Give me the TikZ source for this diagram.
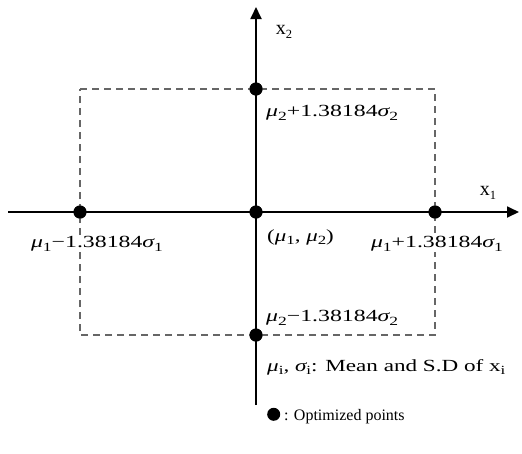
\documentclass[tikz,border=0pt]{standalone}
\usepackage{fontspec}
\setmainfont{Liberation Serif}
\usetikzlibrary{arrows.meta}
\newcommand\lowi[1]{\raisebox{-0.45ex}{\fontsize{12.5}{13}\selectfont #1}}
\newcommand\mymu{{\itshape μ}}
\newcommand\mysig{{\itshape σ}}
\newcommand\wide[2]{\scalebox{#1}[1]{#2}}
\begin{document}
\begin{tikzpicture}[x=1pt,y=-1pt,
  axis/.style={line width=1.8pt,-{Triangle[length=12pt,width=11pt]}},
  dot/.style={circle,fill=black,inner sep=0pt,minimum size=13pt},
  box/.style={draw=black!60,line width=1.4pt,dash pattern=on 7pt off 5pt},
  lbl/.style={font=\fontsize{17}{18}\selectfont,inner sep=1pt}]
\useasboundingbox (0,0) rectangle (522,453);
\coordinate (xs) at (8,212);
\coordinate (xe) at (519,212);
\coordinate (ys) at (256,405);
\coordinate (ye) at (256,7);
\node[dot] (L) at (80,212) {};
\node[dot] (R) at (435,212) {};
\node[dot] (C) at (256,212) {};
\node[dot] (T) at (256,89) {};
\node[dot] (B) at (256,335) {};
\draw[box] (L |- T) -- (R |- T) -- (R |- B) -- (L |- B) -- cycle;
\draw[axis] (xs) -- (xe);
\draw[axis] (ys) -- (ye);
\node[dot] at (L) {};
\node[dot] at (R) {};
\node[dot] at (C) {};
\node[dot] at (T) {};
\node[dot] at (B) {};
\node[lbl,font=\fontsize{20}{21}\selectfont] (x2) at (284,32) {x\lowi{2}};
\node[lbl,font=\fontsize{20}{21}\selectfont] (x1) at (488,193) {x\lowi{1}};
\node[lbl,fill=white,anchor=west] (tl) at (265,113) {\wide{1.4}{\mymu\lowi{2}+1.38184\mysig\lowi{2}}};
\node[lbl,fill=white,anchor=west] (cl) at (266,237) {\wide{1.35}{(\mymu\lowi{1}, \mymu\lowi{2})}};
\node[lbl,fill=white] (ll) at (97,244) {\wide{1.4}{\mymu\lowi{1}−1.38184\mysig\lowi{1}}};
\node[lbl,fill=white] (rl) at (437,244) {\wide{1.4}{\mymu\lowi{1}+1.38184\mysig\lowi{1}}};
\node[lbl,fill=white,anchor=west] (bl) at (265,318) {\wide{1.4}{\mymu\lowi{2}−1.38184\mysig\lowi{2}}};
\node[lbl,anchor=west] (ml) at (266,367) {\wide{1.36}{\mymu\lowi{i}, \mysig\lowi{i}: Mean and S.D of x\lowi{i}}};
\node[lbl,anchor=west,font=\fontsize{16}{17}\selectfont] (ol) at (266,416) {\tikz\fill (0,0) circle (6.5pt); : Optimized points};
\end{tikzpicture}
\end{document}
